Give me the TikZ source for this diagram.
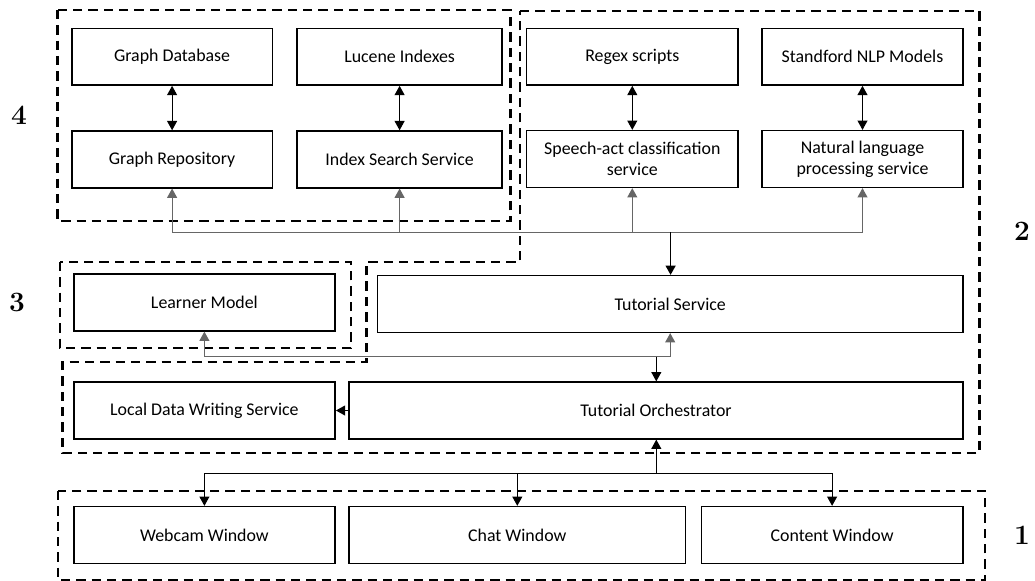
\documentclass[tikz,border=0pt]{standalone}
\usepackage{fontspec}
\newfontfamily\boxfont{Carlito}
\usetikzlibrary{arrows.meta}

\begin{document}
\begin{tikzpicture}[
    x=0.75pt,y=-0.75pt,
    svc/.style={draw=black,line width=1.2pt,minimum height=42.5pt,inner sep=2pt,align=center,
      font=\boxfont\fontsize{13.4}{15.5}\selectfont},
    grp/.style={draw=black,line width=1.9pt,dash pattern=on 7pt off 4.5pt},
    arr/.style={-{Triangle[length=7pt,width=7.5pt]},line width=0.8pt,draw=black},
    dbl/.style={{Triangle[length=7pt,width=7.5pt]}-{Triangle[length=7pt,width=7.5pt]},line width=0.8pt,draw=black},
    feed/.style={arr,draw=black!60},
    lbl/.style={font=\fontsize{21}{25}\selectfont\bfseries}
  ]
  \useasboundingbox (0,0) rectangle (1035,581);

  % layer 4: storage and search
  \node[svc,minimum width=150.6pt] (gdb) at (172.1,56.7) {Graph Database};
  \node[svc,minimum width=153.6pt] (lucene) at (399.6,56.7) {Lucene Indexes};
  \node[svc,minimum width=150.6pt] (grepo) at (172.1,159.4) {Graph Repository};
  \node[svc,minimum width=153.6pt] (isearch) at (399.6,159.4) {Index Search Service};

  % layer 2: language services
  \node[svc,minimum width=158.9pt] (regex) at (632.3,56.7) {Regex scripts};
  \node[svc,minimum width=150.5pt] (stanford) at (862.5,56.7) {Standford NLP Models};
  \node[svc,minimum width=158.9pt] (speech) at (632.3,159) {Speech-act classification\\service};
  \node[svc,minimum width=150.5pt] (nlp) at (862.5,159) {Natural language\\processing service};

  \node[svc,minimum width=196pt] (lmodel) at (204.4,302.5) {Learner Model};
  \node[svc,minimum width=438.9pt] (tsvc) at (670.2,304) {Tutorial Service};
  \node[svc,minimum width=196pt] (ldws) at (204.4,410.5) {Local Data Writing Service};
  \node[svc,minimum width=460.2pt] (orch) at (656,410.5) {Tutorial Orchestrator};

  % layer 1: windows
  \node[svc,minimum width=196pt] (webcam) at (204.4,535) {Webcam Window};
  \node[svc,minimum width=252.1pt] (chat) at (517.3,535) {Chat Window};
  \node[svc,minimum width=196pt] (content) at (832.1,535) {Content Window};

  % dashed layers
  \draw[grp] (57.5,10) rectangle (510.5,221);
  \draw[grp] (520,11) -- (979.5,11) -- (979.5,453) -- (62.5,453) -- (62.5,362)
    -- (366.5,362) -- (366.5,262) -- (520,262) -- cycle;
  \draw[grp] (60,262) rectangle (351,348);
  \draw[grp] (58,491) rectangle (985,580);

  \node[lbl] (l4) at (19,115) {4};
  \node[lbl] (l2) at (1022,231) {2};
  \node[lbl] (l3) at (17,302) {3};
  \node[lbl] (l1) at (1022,535) {1};

  \draw[dbl] (gdb) -- (grepo);
  \draw[dbl] (lucene) -- (isearch);
  \draw[dbl] (regex) -- (speech);
  \draw[dbl] (stanford) -- (nlp);

  \coordinate (hub) at (670.6,232.3);
  \coordinate (mid) at (656.3,356.7);
  \coordinate (low) at (656.3,473.3);

  \draw[feed] (hub) -| (grepo);
  \draw[feed] (hub) -| (isearch);
  \draw[feed] (hub) -| (speech);
  \draw[feed] (hub) -| (nlp);
  \draw[arr,line width=1.2pt] (hub) -- (hub |- tsvc.north);

  \draw[feed] (mid) -| (lmodel);
  \draw[feed] (mid) -| (tsvc);
  \draw[arr] (mid) -- (mid |- orch.north);
  \draw[arr] (orch) -- (ldws);

  \draw[arr] (low) -- (low |- orch.south);
  \draw[arr] (low) -| (webcam);
  \draw[arr] (low) -| (chat);
  \draw[arr] (low) -| (content);
\end{tikzpicture}
\end{document}
